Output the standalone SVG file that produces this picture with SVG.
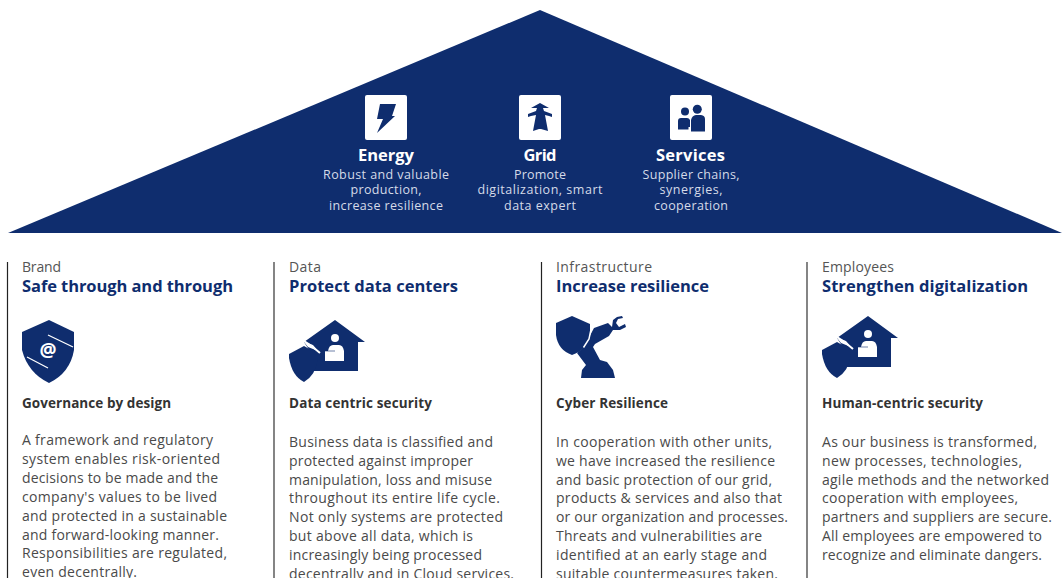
<svg xmlns="http://www.w3.org/2000/svg" width="1062" height="578" viewBox="0 0 1062 578">
<style>
text{font-family:"Open Sans","Noto Sans","Liberation Sans",sans-serif}
.navy{fill:#0f2d6e}
.w{fill:#fff}
.h{font-size:16.5px;font-weight:700;fill:#fff;text-anchor:middle}
.s{font-size:12.5px;fill:#d5dbe8;text-anchor:middle}
.k{font-size:14px;fill:#555}
.t{font-size:16.5px;font-weight:700;fill:#0f2d6e}
.b{font-size:13.5px;font-weight:700;fill:#333}
.p{font-size:14px;fill:#4a4a4a}
.r{stroke:#222;stroke-width:1.2}
.r2{stroke:#666;stroke-width:1.6}
</style>
<defs>
<g id="house">
<polygon class="navy" points="837,338 868,316 898,338 891,338 891,367 846,367 846,352"/>
<path class="navy" d="M822 350L837 342L851 350V354Q849 371 837 378Q825 372 822 354Z"/>
<path d="M837 337L844 341.500L853 349" stroke="#fff" stroke-width="2" fill="none"/>
<path d="M837 338L846 341L851 347L841 343Z" fill="#fff"/>
<circle class="w" cx="868" cy="334" r="4"/>
<path class="w" d="M858 347H861Q862 341 866 341H872Q876 341 877 347V357H858Z"/>
<path d="M858 347H868" stroke="#0f2d6e" stroke-width=".6" fill="none"/>
</g>
</defs>
<rect width="1062" height="578" fill="#fff"/>
<g id="roof"><polygon class="navy" points="540,10 8,233 1062,233"/></g>
<g id="energy">
<rect class="w" x="365" y="95" width="42" height="45" rx="2"/>
<polygon class="navy" points="380,104 396,104 392,116 395,116 377,133 383,119 377,119"/>
<text class="h" x="386" y="161" textLength="56">Energy</text>
<text class="s" x="386" y="179" textLength="126">Robust and valuable</text>
<text class="s" x="386" y="194" textLength="71">production,</text>
<text class="s" x="386" y="210" textLength="114">increase resilience</text>
</g>
<g id="grid">
<rect class="w" x="519" y="95" width="42" height="45" rx="2"/>
<polygon class="navy" points="540,103 549,108 543,108 544,111 552,114 552,117 549,116 545,115 548,131 541,129 539,129 533,131 536,115 531,116 528,117 528,114 536,111 537,108 531,108"/>
<text class="h" x="540" y="161" textLength="33">Grid</text>
<text class="s" x="540" y="179" textLength="52">Promote</text>
<text class="s" x="540" y="194" textLength="125">digitalization, smart</text>
<text class="s" x="540" y="210" textLength="72">data expert</text>
</g>
<g id="services">
<rect class="w" x="670" y="95" width="42" height="45" rx="2"/>
<g class="navy"><circle cx="685" cy="111.500" r="4"/><circle cx="697.300" cy="109.300" r="4.500"/>
<path d="M678 129.500V121Q678 118 681 118H687Q689 118 690 120V127H688.500V129.500Z"/>
<path d="M691 131.500V120Q692 115.500 696 115H701Q705 115.500 705 119V131.500Z"/></g>
<text class="h" x="690.500" y="161" textLength="69">Services</text>
<text class="s" x="691" y="179" textLength="97">Supplier chains,</text>
<text class="s" x="691" y="194" textLength="63">synergies,</text>
<text class="s" x="691" y="210" textLength="74">cooperation</text>
</g>
<g id="connectors"></g>
<g id="brand">
<line class="r" x1="7.500" y1="262" x2="7.500" y2="578"/>
<text class="k" x="22" y="272" textLength="39">Brand</text>
<text class="t" x="22" y="292" textLength="211">Safe through and through</text>
<path class="navy" d="M49 320L74 332V350Q70 373 49 383Q28 373 22 350V332Z"/>
<path d="M48 335L73 347M27 357L48 368" stroke="#fff" stroke-width="1.300" fill="none"/>
<text x="48" y="357" font-size="19" font-weight="700" fill="#fff" text-anchor="middle">@</text>
<text class="b" x="22" y="408" textLength="149">Governance by design</text>
<g class="p">
<text x="22" y="445" textLength="191">A framework and regulatory</text>
<text x="22" y="463.900" textLength="198">system enables risk-oriented</text>
<text x="22" y="482.800" textLength="196">decisions to be made and the</text>
<text x="22" y="501.700" textLength="195">company's values to be lived</text>
<text x="22" y="520.600" textLength="205">and protected in a sustainable</text>
<text x="22" y="539.500" textLength="197">and forward-looking manner.</text>
<text x="22" y="558.400" textLength="205">Responsibilities are regulated,</text>
<text x="22" y="577.300" textLength="115">even decentrally.</text>
</g>
</g>
<g id="data">
<line class="r2" x1="274" y1="262" x2="274" y2="578"/>
<text class="k" x="289" y="272" textLength="32">Data</text>
<text class="t" x="289" y="292" textLength="169">Protect data centers</text>
<use href="#house" x="-533" y="4"/>
<text class="b" x="289" y="408" textLength="143">Data centric security</text>
<g class="p">
<text x="289" y="447" textLength="204">Business data is classified and</text>
<text x="289" y="465.800" textLength="184">protected against improper</text>
<text x="289" y="484.600" textLength="203">manipulation, loss and misuse</text>
<text x="289" y="503.400" textLength="211">throughout its entire life cycle.</text>
<text x="289" y="522.200" textLength="214">Not only systems are protected</text>
<text x="289" y="541" textLength="184">but above all data, which is</text>
<text x="289" y="559.800" textLength="193">increasingly being processed</text>
<text x="289" y="578.600" textLength="225">decentrally and in Cloud services.</text>
</g>
</g>
<g id="infrastructure">
<line class="r" x1="541.500" y1="262" x2="541.500" y2="578"/>
<text class="k" x="556" y="272" textLength="96">Infrastructure</text>
<text class="t" x="556" y="292" textLength="153">Increase resilience</text>
<path class="navy" d="M594 328L608 323L612 327L613 320L617 317L622 316L623 318L618 319L616 323L619 327L625 324L626 327L620 330L613 330L609 336L595 344L593 347L600 360L607 362L613 370L615 378H581L582 370L586 365L577 353L584 347Z"/>
<path class="navy" d="M556 323L572 316L590 324V335Q587 350 572 355Q558 350 556 335Z"/>
<path d="M591.500 327L589 339L583.500 347.500" stroke="#fff" stroke-width="1.500" fill="none"/>
<text class="b" x="556" y="408" textLength="112">Cyber Resilience</text>
<g class="p">
<text x="556" y="447" textLength="216">In cooperation with other units,</text>
<text x="556" y="465.800" textLength="219">we have increased the resilience</text>
<text x="556" y="484.600" textLength="216">and basic protection of our grid,</text>
<text x="556" y="503.400" textLength="226">products &amp; services and also that</text>
<text x="556" y="522.200" textLength="232">or our organization and processes.</text>
<text x="556" y="541" textLength="206">Threats and vulnerabilities are</text>
<text x="556" y="559.800" textLength="211">identified at an early stage and</text>
<text x="556" y="578.600" textLength="222">suitable countermeasures taken.</text>
</g>
</g>
<g id="employees">
<line class="r2" x1="807" y1="262" x2="807" y2="578"/>
<text class="k" x="822" y="272" textLength="72">Employees</text>
<text class="t" x="822" y="292" textLength="206">Strengthen digitalization</text>
<use href="#house"/>
<text class="b" x="822" y="408" textLength="161">Human-centric security</text>
<g class="p">
<text x="822" y="447" textLength="215">As our business is transformed,</text>
<text x="822" y="465.800" textLength="200">new processes, technologies,</text>
<text x="822" y="484.600" textLength="227">agile methods and the networked</text>
<text x="822" y="503.400" textLength="196">cooperation with employees,</text>
<text x="822" y="522.200" textLength="230">partners and suppliers are secure.</text>
<text x="822" y="541" textLength="220">All employees are empowered to</text>
<text x="822" y="559.800" textLength="220">recognize and eliminate dangers.</text>
</g>
</g>
</svg>
